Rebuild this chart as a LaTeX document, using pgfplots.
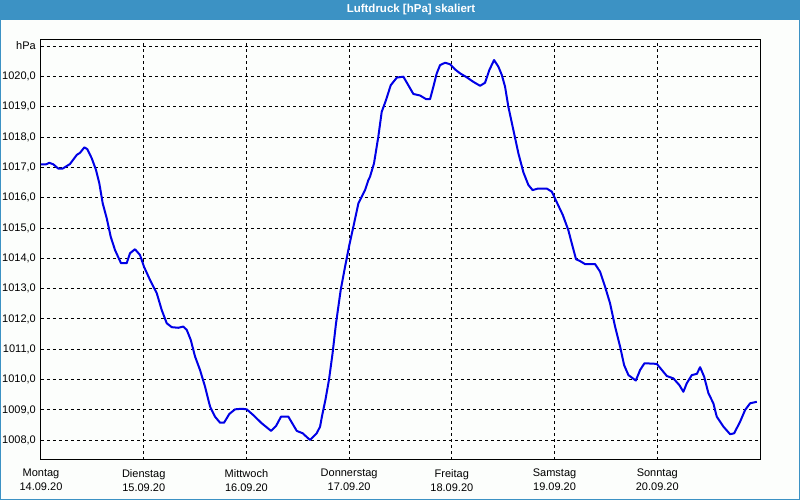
\documentclass[border=0pt]{standalone}
\usepackage{pgfplots}
\pgfplotsset{compat=1.18}
\usepackage{fontspec}
\setmainfont{Liberation Sans}
\definecolor{titlebar}{RGB}{60,146,196}
\definecolor{bg}{RGB}{252,254,252}
\definecolor{curve}{RGB}{0,0,230}
\begin{document}
\begin{tikzpicture}
\fill[bg] (0,0) rectangle (800pt,500pt);
\fill[titlebar] (0,480pt) rectangle (800pt,500pt);
\draw[titlebar, line width=1pt] (0.5pt,0.5pt) rectangle (799.5pt,499.5pt);
\node[text=white, font=\fontsize{11.5}{13}\selectfont\bfseries] at (411pt,490pt) {Luftdruck [hPa] skaliert};
\begin{axis}[
  at={(41pt,40pt)}, anchor=south west,
  scale only axis, width=719pt, height=420pt,
  xmin=0, xmax=7, ymin=1007.35, ymax=1021.2,
  axis line style={black, line width=1pt},
  major tick length=0pt,
  xtick={0,1,2,3,4,5,6},
  xticklabels={{Montag\\14.09.20},{Dienstag\\15.09.20},{Mittwoch\\16.09.20},{Donnerstag\\17.09.20},{Freitag\\18.09.20},{Samstag\\19.09.20},{Sonntag\\20.09.20}},
  xticklabel style={align=center, inner sep=0pt, yshift=-9pt, font=\fontsize{11}{14}\selectfont},
  ytick={1008,1009,1010,1011,1012,1013,1014,1015,1016,1017,1018,1019,1020,1021},
  yticklabels={{1008,0},{1009,0},{1010,0},{1011,0},{1012,0},{1013,0},{1014,0},{1015,0},{1016,0},{1017,0},{1018,0},{1019,0},{1020,0},hPa},
  yticklabel style={inner sep=0pt, xshift=-5pt, font=\fontsize{11}{12}\selectfont},
  grid=major,
  major grid style={black, line width=1pt, dash pattern=on 3pt off 3pt},
  axis background/.style={fill=bg},
  clip=true,
]
\addplot[curve, line width=2pt, line join=round] coordinates {
(0.000,1017.10) (0.049,1017.10) (0.081,1017.15) (0.120,1017.10) (0.168,1016.96)
(0.211,1016.96) (0.282,1017.11) (0.348,1017.41) (0.380,1017.48) (0.422,1017.66)
(0.451,1017.60) (0.494,1017.30) (0.536,1016.91) (0.568,1016.47) (0.601,1015.81)
(0.640,1015.32) (0.679,1014.71) (0.721,1014.27) (0.779,1013.84) (0.834,1013.84)
(0.867,1014.17) (0.915,1014.30) (0.964,1014.11) (1.003,1013.72) (1.061,1013.29)
(1.127,1012.85) (1.175,1012.30) (1.224,1011.86) (1.273,1011.73) (1.337,1011.71)
(1.386,1011.75) (1.419,1011.64) (1.458,1011.31) (1.500,1010.76) (1.548,1010.32)
(1.597,1009.77) (1.646,1009.11) (1.694,1008.78) (1.743,1008.58) (1.782,1008.58)
(1.834,1008.87) (1.889,1009.02) (1.954,1009.04) (2.003,1009.02) (2.067,1008.83)
(2.149,1008.56) (2.240,1008.31) (2.288,1008.47) (2.337,1008.78) (2.408,1008.78)
(2.490,1008.31) (2.548,1008.23) (2.619,1008.01) (2.684,1008.23) (2.717,1008.45)
(2.736,1008.80) (2.770,1009.35) (2.804,1010.00) (2.838,1010.85) (2.872,1011.85)
(2.918,1012.96) (2.960,1013.72) (3.002,1014.44) (3.041,1015.04) (3.090,1015.81)
(3.155,1016.25) (3.187,1016.58) (3.203,1016.69) (3.242,1017.13) (3.284,1018.01)
(3.317,1018.83) (3.359,1019.22) (3.405,1019.71) (3.464,1019.96) (3.528,1019.99)
(3.576,1019.71) (3.625,1019.42) (3.690,1019.37) (3.749,1019.25) (3.788,1019.25)
(3.820,1019.66) (3.853,1020.10) (3.885,1020.37) (3.934,1020.45) (3.983,1020.40)
(4.031,1020.23) (4.080,1020.10) (4.145,1019.97) (4.209,1019.82) (4.275,1019.69)
(4.323,1019.79) (4.365,1020.21) (4.411,1020.54) (4.453,1020.32) (4.486,1020.05)
(4.518,1019.66) (4.550,1019.00) (4.599,1018.23) (4.648,1017.46) (4.697,1016.83)
(4.745,1016.42) (4.786,1016.25) (4.837,1016.30) (4.924,1016.30) (4.973,1016.20)
(5.027,1015.81) (5.080,1015.43) (5.134,1014.93) (5.167,1014.50) (5.209,1013.97)
(5.248,1013.91) (5.297,1013.81) (5.394,1013.81) (5.443,1013.56) (5.492,1013.06)
(5.540,1012.52) (5.589,1011.75) (5.638,1011.09) (5.677,1010.48) (5.719,1010.15)
(5.791,1009.97) (5.833,1010.32) (5.875,1010.54) (5.995,1010.52) (6.044,1010.32)
(6.093,1010.12) (6.157,1010.04) (6.215,1009.82) (6.254,1009.60) (6.287,1009.88)
(6.336,1010.15) (6.385,1010.19) (6.417,1010.41) (6.456,1010.10) (6.498,1009.55)
(6.546,1009.22) (6.579,1008.78) (6.644,1008.45) (6.709,1008.20) (6.748,1008.23)
(6.806,1008.61) (6.855,1009.00) (6.904,1009.22) (6.969,1009.27)
};
\end{axis}
\pgfresetboundingbox
\path (0,0) rectangle (800pt,500pt);
\end{tikzpicture}
\end{document}
